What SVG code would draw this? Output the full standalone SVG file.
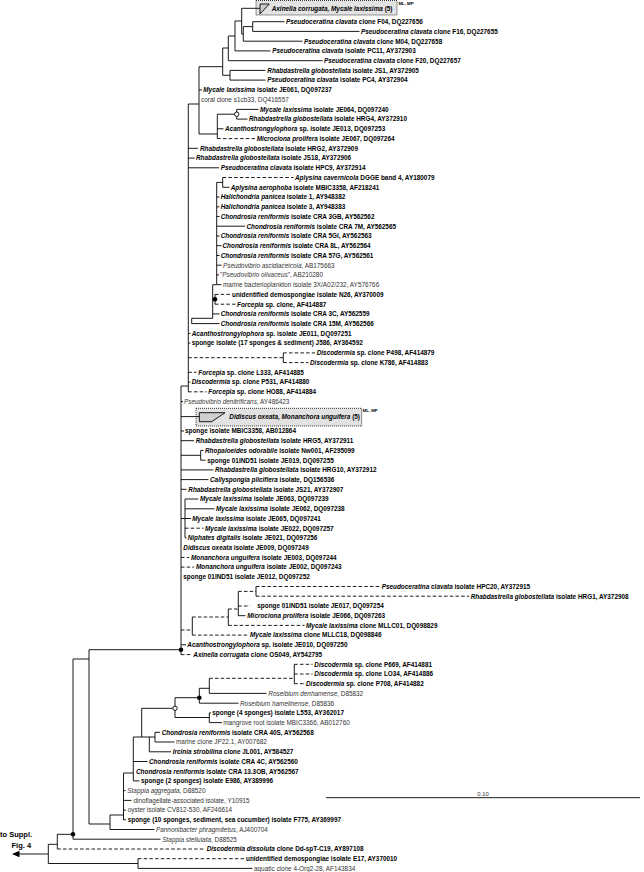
<svg xmlns="http://www.w3.org/2000/svg" width="644" height="872" viewBox="0 0 644 872">
<style>
text{font-family:"Liberation Sans",Arial,sans-serif;font-size:6.4px;fill:#000}
.b{font-weight:bold}
.t{font-weight:normal;fill:#333}
.i{font-style:italic}
.mm{font-size:4.3px;font-weight:bold}
.big{font-size:7.5px;font-weight:bold}
.box{fill:#e2e2e2;stroke:#000;stroke-width:0.8;stroke-dasharray:1 1}
.wedge{fill:#cfcfcf;stroke:#000;stroke-width:0.9}
#connectors path{fill:none;stroke:#000;stroke-width:0.9}
#connectors .d{stroke-dasharray:3.5 2.2}
.dot{fill:#000}
.odot{fill:#fff;stroke:#000;stroke-width:0.9}
</style>
<g id="box1">
<rect class="box" x="256" y="0.5" width="141" height="14.5"/>
<polygon class="wedge" points="260,4 269.3,4 260,14"/>
<text class="b" x="271.7" y="10.6"><tspan class="i">Axinella corrugata, Mycale laxissima</tspan> (5)</text>
<text class="mm" x="398.5" y="5">ML, MP</text>
</g>
<g id="box2">
<rect class="box" x="196" y="408.3" width="165.7" height="17.7"/>
<polygon class="wedge" points="199.3,412.7 225,412.7 211.7,421.7 199.3,421.7"/>
<text class="b" x="229.3" y="418.9"><tspan class="i">Didiscus oxeata, Monanchora unguifera</tspan> (5)</text>
<text class="mm" x="362.7" y="412">ML, MP</text>
</g>
<g id="connectors">
<path d="M241.7 8.3H260M241.7 8.3V34M241.7 21H235M241.7 34H243.3M243.3 26.6V41.2M243.3 41.2H302.5M243.3 26.6H252.7M252.7 21.7V31.4M252.7 21.7H284.5M252.7 31.4H359.5M235 21V50.9M235 50.9H270.5M235 36H228.3M228.3 36V60.7M228.3 60.7H322.5M228.3 48H222.7M222.7 48V75.3M222.7 75.3H230M230 70.4V80.1M230 70.4H265.5M230 80.1H265.5M222.7 66.7H199M199 66.7V134M199 89.9H202M199 134H217.3M217.3 114.2V138.6M217.3 114.2H236.7M236.7 109.4V119.1M236.7 109.4H258.5M236.7 119.1H247.5M217.3 128.8H223.5"/>
<path class="d" d="M217.3 138.6H255"/>
<path d="M199 104H188.3M188.3 104V391.8M188.3 148.3H198M188.3 158.1H194.5M188.3 167.8H219"/>
<path d="M216.7 182.4V284.7M216.7 182.4H222.7M222.7 177.5V187.3M222.7 187.3H229.5M216.7 197H219.5M216.7 206.8H219.5M216.7 216.5H219.5M216.7 236H219.5M216.7 255.5H219.5M216.7 274.9H219M216.7 226.2H245M216.7 245.7H221.5M216.7 265.2H221.5M216.7 284.7H221.5M216.7 284.7H212.7M212.7 284.7V318.3M212.7 299.3H215M215 294.4V304.2M212.7 313.9H219.5M212.7 318.3H191.7M191.7 318.3V323.6M191.7 323.6H219.5"/>
<path class="d" d="M222.7 177.5H293.5M215 294.4H230.5M215 304.2H235.5"/>
<path d="M188.3 333.4H190.3M188.3 343.1H190.3M283.3 352.9V362.6M188.3 382.1H190.3"/>
<path class="d" d="M188.3 357.7H283.3M283.3 352.9H315M283.3 362.6H308.5M188.3 372.3H196.5M188.3 391.8H206.7"/>
<path d="M181 386H188.3M181 386V654.6M181 401.6H183M181 416.6H199.3M181 431H184M181 440.7H194M181 455.3H200.7M200.7 450.4V460.2M200.7 450.4H203.5M200.7 460.2H205.5M181 469.9H213.5M181 479.6H208.5M181 489.3H186.5M181 518.5H185M185 499V537.9M185 499H198.3M185 508.8H214.5M185 518.5H191M185 537.9H186.5"/>
<path class="d" d="M185 528.2H203.5M181 557.4H189.3M181 567.1H194"/>
<path d="M192.3 617V635.1M228.3 609V625.4M238.3 591.4V615.7M238.3 615.7H245.5M256 586.5V596.2M181 644.8H186"/>
<path class="d" d="M181 630H192.3M192.3 617H228.3M192.3 635.1H248.5M228.3 625.4H304.5M228.3 609H238.3M238.3 591.4H256M238.3 606H250M256 586.5H380M256 596.2H469.3M181 654.6H192"/>
<path d="M89 649.7H181M89 649.7V824M73 659H89M73 659V839.2M73 839.2H160.5M57.3 834.3H73M57.3 834.3V849M48.3 844.3H57.3M48.3 844.3V863.5M48.3 863.5H138M138 858.7V868.4M138 868.4H252.5M48.3 854H19"/>
<path class="d" d="M57.3 849H205M138 858.7H244.5"/>
<path d="M89 824H110M110 815V829.5M110 829.5H154.5M110 815H123.5M123.5 773V819.8M123.5 773H133.3M123.5 790.6H125.5M123.5 800.4H131.5M123.5 810.1H126M123.5 819.8H126M133.3 737V780.9M133.3 761.5H147.5M133.3 780.9H139.5M133.3 737H155M141.7 708.3V737M141.7 708.3H175M149.3 737V751.8M149.3 751.8H171M155 732.3V742M155 732.3H160M155 742H174.5M175 697.7V717.5M175 697.7H199.3M175 717.5H209.3M209.3 712.9V722.6M209.3 712.9H211M209.3 722.6H222M199.3 688.3V703.2M199.3 688.3H209.3M199.3 703.2H238.5M209.3 678.3V693.4M209.3 693.4H266.5M294.3 664.3V683.7"/>
<path class="d" d="M209.3 678.3H294.3M294.3 664.3H312.5M294.3 674H312.5M294.3 683.7H304.5"/>
<path d="M326 797.7H640"/>
<polygon points="12,854 19.5,850.8 19.5,857.2" fill="#000"/>
<circle class="odot" cx="236.7" cy="114.2" r="2.2"/>
<circle class="dot" cx="215" cy="299.3" r="2.3"/>
<circle class="dot" cx="181" cy="649.7" r="2.3"/>
<circle class="dot" cx="199.3" cy="697.7" r="2.3"/>
<circle class="odot" cx="175" cy="708.3" r="2.2"/>
<circle class="dot" cx="73" cy="834.3" r="2.3"/>
</g>
<g id="leaves">
<g id="n1"><text class="b" x="286" y="24"><tspan class="i">Pseudoceratina clavata</tspan> clone F04, DQ227656</text></g>
<g id="n2"><text class="b" x="361" y="33.7"><tspan class="i">Pseudoceratina clavata</tspan> clone F16, DQ227655</text></g>
<g id="n3"><text class="b" x="304" y="43.5"><tspan class="i">Pseudoceratina clavata</tspan> clone M04, DQ227658</text></g>
<g id="n4"><text class="b" x="272.3" y="53.2"><tspan class="i">Pseudoceratina clavata</tspan> isolate PC11, AY372903</text></g>
<g id="n5"><text class="b" x="324" y="63"><tspan class="i">Pseudoceratina clavata</tspan> clone F20, DQ227657</text></g>
<g id="n6"><text class="b" x="267.3" y="72.7"><tspan class="i">Rhabdastrella globostellata</tspan> isolate JS1, AY372905</text></g>
<g id="n7"><text class="b" x="267.3" y="82.4"><tspan class="i">Pseudoceratina clavata</tspan> isolate PC4, AY372904</text></g>
<g id="n8"><text class="b" x="203.3" y="92.2"><tspan class="i">Mycale laxissima</tspan> isolate JE061, DQ097237</text></g>
<g id="n9"><text class="t" x="201" y="101.9">coral clone s1cb33, DQ416557</text></g>
<g id="n10"><text class="b" x="260" y="111.7"><tspan class="i">Mycale laxissima</tspan> isolate JE064, DQ097240</text></g>
<g id="n11"><text class="b" x="249" y="121.4"><tspan class="i">Rhabdastrella globostellata</tspan> isolate HRG4, AY372910</text></g>
<g id="n12"><text class="b" x="225" y="131.1"><tspan class="i">Acanthostrongylophora</tspan> sp. isolate JE013, DQ097253</text></g>
<g id="n13"><text class="b" x="256.7" y="140.9"><tspan class="i">Microciona prolifera</tspan> isolate JE067, DQ097264</text></g>
<g id="n14"><text class="b" x="200" y="150.6"><tspan class="i">Rhabdastrella globostellata</tspan> isolate HRG2, AY372909</text></g>
<g id="n15"><text class="b" x="196" y="160.4"><tspan class="i">Rhabdastrella globostellata</tspan> isolate JS18, AY372906</text></g>
<g id="n16"><text class="b" x="220.7" y="170.1"><tspan class="i">Pseudoceratina clavata</tspan> isolate HPC9, AY372914</text></g>
<g id="n17"><text class="b" x="295" y="179.8"><tspan class="i">Aplysina cavernicola</tspan> DGGE band 4, AY180079</text></g>
<g id="n18"><text class="b" x="230.7" y="189.6"><tspan class="i">Aplysina aerophoba</tspan> isolate MBIC3358, AF218241</text></g>
<g id="n19"><text class="b" x="220.7" y="199.3"><tspan class="i">Halichondria panicea</tspan> isolate 1, AY948382</text></g>
<g id="n20"><text class="b" x="220.7" y="209.1"><tspan class="i">Halichondria panicea</tspan> isolate 3, AY948383</text></g>
<g id="n21"><text class="b" x="220.7" y="218.8"><tspan class="i">Chondrosia reniformis</tspan> isolate CRA 3GB, AY562562</text></g>
<g id="n22"><text class="b" x="246.5" y="228.5"><tspan class="i">Chondrosia reniformis</tspan> isolate CRA 7M, AY562565</text></g>
<g id="n23"><text class="b" x="220.7" y="238.3"><tspan class="i">Chondrosia reniformis</tspan> isolate CRA 5GI, AY562563</text></g>
<g id="n24"><text class="b" x="222.5" y="248"><tspan class="i">Chondrosia reniformis</tspan> isolate CRA 8L, AY562564</text></g>
<g id="n25"><text class="b" x="220.7" y="257.8"><tspan class="i">Chondrosia reniformis</tspan> isolate CRA 57G, AY562561</text></g>
<g id="n26"><text class="t" x="223" y="267.5"><tspan class="i">Pseudovibrio ascidiaceicola</tspan>, AB175663</text></g>
<g id="n27"><text class="t" x="220" y="277.2">"<tspan class="i">Pseudovibrio olivaceus</tspan>", AB210280</text></g>
<g id="n28"><text class="t" x="223" y="287">marine bacterioplankton isolate 3X/A02/232, AY576766</text></g>
<g id="n29"><text class="b" x="232" y="296.7">unidentified demospongiae isolate N26, AY370009</text></g>
<g id="n30"><text class="b" x="237" y="306.5"><tspan class="i">Forcepia</tspan> sp. clone, AF414887</text></g>
<g id="n31"><text class="b" x="220.7" y="316.2"><tspan class="i">Chondrosia reniformis</tspan> isolate CRA 3C, AY562559</text></g>
<g id="n32"><text class="b" x="220.7" y="325.9"><tspan class="i">Chondrosia reniformis</tspan> isolate CRA 15M, AY562566</text></g>
<g id="n33"><text class="b" x="191.7" y="335.7"><tspan class="i">Acanthostrongylophora</tspan> sp. isolate JE011, DQ097251</text></g>
<g id="n34"><text class="b" x="191.7" y="345.4">sponge isolate (17 sponges &amp; sediment) J586, AY364592</text></g>
<g id="n35"><text class="b" x="316.7" y="355.2"><tspan class="i">Discodermia</tspan> sp. clone P498, AF414879</text></g>
<g id="n36"><text class="b" x="310" y="364.9"><tspan class="i">Discodermia</tspan> sp. clone K786, AF414883</text></g>
<g id="n37"><text class="b" x="198.3" y="374.6"><tspan class="i">Forcepia</tspan> sp. clone L333, AF414885</text></g>
<g id="n38"><text class="b" x="191.7" y="384.4"><tspan class="i">Discodermia</tspan> sp. clone P531, AF414880</text></g>
<g id="n39"><text class="b" x="208.3" y="394.1"><tspan class="i">Forcepia</tspan> sp. clone HO88, AF414884</text></g>
<g id="n40"><text class="t" x="184" y="403.9"><tspan class="i">Pseudovibrio denitrificans</tspan>, AY486423</text></g>
<g id="n42"><text class="b" x="185" y="433.3">sponge isolate MBIC3358, AB012864</text></g>
<g id="n43"><text class="b" x="195.7" y="443"><tspan class="i">Rhabdastrella globostellata</tspan> isolate HRG5, AY372911</text></g>
<g id="n44"><text class="b" x="205" y="452.7"><tspan class="i">Rhopaloeides odorabile</tspan> isolate Nw001, AF295099</text></g>
<g id="n45"><text class="b" x="207.3" y="462.5">sponge 01IND51 isolate JE019, DQ097255</text></g>
<g id="n46"><text class="b" x="215" y="472.2"><tspan class="i">Rhabdastrella globostellata</tspan> isolate HRG10, AY372912</text></g>
<g id="n47"><text class="b" x="210" y="481.9"><tspan class="i">Callyspongia pliciflera</tspan> isolate, DQ156536</text></g>
<g id="n48"><text class="b" x="188.3" y="491.6"><tspan class="i">Rhabdastrella globostellata</tspan> isolate JS21, AY372907</text></g>
<g id="n49"><text class="b" x="200" y="501.3"><tspan class="i">Mycale laxissima</tspan> isolate JE063, DQ097239</text></g>
<g id="n50"><text class="b" x="216" y="511.1"><tspan class="i">Mycale laxissima</tspan> isolate JE062, DQ097238</text></g>
<g id="n51"><text class="b" x="192.3" y="520.8"><tspan class="i">Mycale laxissima</tspan> isolate JE065, DQ097241</text></g>
<g id="n52"><text class="b" x="205" y="530.5"><tspan class="i">Mycale laxissima</tspan> isolate JE022, DQ097257</text></g>
<g id="n53"><text class="b" x="187.7" y="540.2"><tspan class="i">Niphates digitalis</tspan> isolate JE021, DQ097256</text></g>
<g id="n54"><text class="b" x="183.3" y="549.9"><tspan class="i">Didiscus oxeata</tspan> isolate JE009, DQ097249</text></g>
<g id="n55"><text class="b" x="191" y="559.7"><tspan class="i">Monanchora unguifera</tspan> isolate JE003, DQ097244</text></g>
<g id="n56"><text class="b" x="196" y="569.4"><tspan class="i">Monanchora unguifera</tspan> isolate JE002, DQ097243</text></g>
<g id="n57"><text class="b" x="183.3" y="579.1">sponge 01IND51 isolate JE012, DQ097252</text></g>
<g id="n58"><text class="b" x="381.7" y="588.8"><tspan class="i">Pseudoceratina clavata</tspan> isolate HPC20, AY372915</text></g>
<g id="n59"><text class="b" x="470.7" y="598.5"><tspan class="i">Rhabdastrella globostellata</tspan> isolate HRG1, AY372908</text></g>
<g id="n60"><text class="b" x="257.3" y="608.3">sponge 01IND51 isolate JE017, DQ097254</text></g>
<g id="n61"><text class="b" x="247.3" y="618"><tspan class="i">Microciona prolifera</tspan> isolate JE066, DQ097263</text></g>
<g id="n62"><text class="b" x="306" y="627.7"><tspan class="i">Mycale laxissima</tspan> clone MLLC01, DQ098829</text></g>
<g id="n63"><text class="b" x="250" y="637.4"><tspan class="i">Mycale laxissima</tspan> clone MLLC18, DQ098846</text></g>
<g id="n64"><text class="b" x="187.3" y="647.1"><tspan class="i">Acanthostrongylophora</tspan> sp. isolate JE010, DQ097250</text></g>
<g id="n65"><text class="b" x="193.3" y="656.9"><tspan class="i">Axinella corrugata</tspan> clone OS049, AY542795</text></g>
<g id="n66"><text class="b" x="314.3" y="666.6"><tspan class="i">Discodermia</tspan> sp. clone P669, AF414881</text></g>
<g id="n67"><text class="b" x="314.3" y="676.3"><tspan class="i">Discodermia</tspan> sp. clone LO34, AF414886</text></g>
<g id="n68"><text class="b" x="306" y="686"><tspan class="i">Discodermia</tspan> sp. clone P708, AF414882</text></g>
<g id="n69"><text class="t" x="268.3" y="695.7"><tspan class="i">Roseibium denhamense</tspan>, D85832</text></g>
<g id="n70"><text class="t" x="240" y="705.5"><tspan class="i">Roseibium hamelinense</tspan>, D85836</text></g>
<g id="n71"><text class="b" x="212.3" y="715.2">sponge (4 sponges) isolate L553, AY362017</text></g>
<g id="n72"><text class="t" x="223.3" y="724.9">mangrove root isolate MBIC3366, AB012760</text></g>
<g id="n73"><text class="b" x="161.7" y="734.6"><tspan class="i">Chondrosia reniformis</tspan> isolate CRA 40S, AY562568</text></g>
<g id="n74"><text class="t" x="176" y="744.3">marine clone JP22.1, AY007682</text></g>
<g id="n75"><text class="b" x="172.7" y="754.1"><tspan class="i">Ircinia strobilina</tspan> clone JL001, AY584527</text></g>
<g id="n76"><text class="b" x="149" y="763.8"><tspan class="i">Chondrosia reniformis</tspan> isolate CRA 4C, AY562560</text></g>
<g id="n77"><text class="b" x="136" y="773.5"><tspan class="i">Chondrosia reniformis</tspan> isolate CRA 13.3OB, AY562567</text></g>
<g id="n78"><text class="b" x="141" y="783.2">sponge (2 sponges) isolate E986, AY389996</text></g>
<g id="n79"><text class="t" x="127.3" y="792.9"><tspan class="i">Stappia aggregata</tspan>, D88520</text></g>
<g id="n80"><text class="t" x="133.5" y="802.7">dinoflagellate-associated isolate, Y10915</text></g>
<g id="n81"><text class="t" x="127.7" y="812.4">oyster isolate CV812-530, AF246614</text></g>
<g id="n82"><text class="b" x="127.7" y="822.1">sponge (10 sponges, sediment, sea cucumber) isolate F775, AY369997</text></g>
<g id="n83"><text class="t" x="156" y="831.8"><tspan class="i">Pannonibacter phragmitetus</tspan>, AJ400704</text></g>
<g id="n84"><text class="t" x="162.3" y="841.5"><tspan class="i">Stappia stellulata</tspan>, D88525</text></g>
<g id="n85"><text class="b" x="206.7" y="851.3"><tspan class="i">Discodermia dissoluta</tspan> clone Dd-spT-C19, AY897108</text></g>
<g id="n86"><text class="b" x="246" y="861">unidentified demospongiae isolate E17, AY370010</text></g>
<g id="n87"><text class="t" x="254" y="870.7">aquatic clone 4-Org2-28, AF143834</text></g>
</g>
<g id="outgroup">
<text class="big" x="0" y="837">to Suppl.</text>
<text class="big" x="11.5" y="847.5">Fig. 4</text>
</g>
<g id="scale">
<text class="t" x="483" y="796" text-anchor="middle" style="font-size:5.8px">0.10</text>
</g>
</svg>
